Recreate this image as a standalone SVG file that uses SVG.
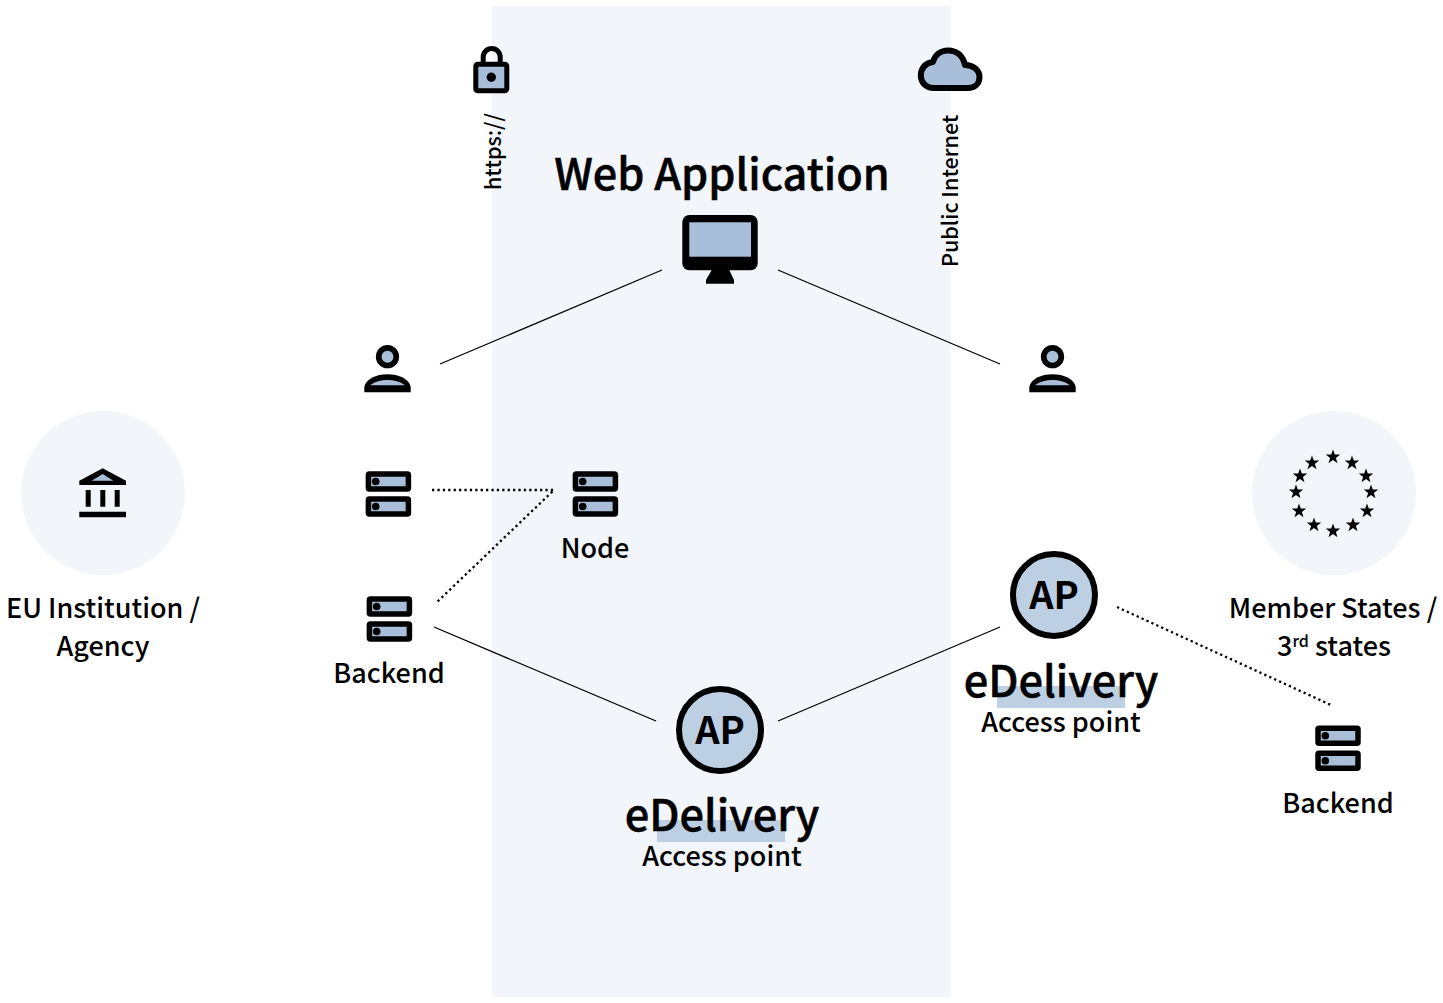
<svg xmlns="http://www.w3.org/2000/svg" width="1443" height="1003" viewBox="0 0 1443 1003">
<style>
text{font-family:"Noto Sans CJK SC","Noto Sans CJK JP","Noto Sans",sans-serif;font-weight:500;fill:#000;text-anchor:middle}
.l{font-size:27px}
.t{font-size:43.200px;stroke:#000;stroke-width:.5px}
.d{font-size:43.300px;stroke:#000;stroke-width:.5px}
.ap{font-size:38px;font-weight:700}
.v{font-size:21.500px;text-anchor:start}
.sup{font-size:16px}
.i{fill:#a9bfd9;stroke:#000;stroke-width:5.500;stroke-linejoin:round}
.c{fill:none;stroke:#000;stroke-width:1.300}
.o{fill:none;stroke:#000;stroke-width:2.300;stroke-dasharray:2.300 3.100}
</style>
<defs>
<g id="srv">
<rect class="i" x="2.700" y="2.700" width="40" height="15" rx="1"/>
<rect class="i" x="2.700" y="27.700" width="40" height="15" rx="1"/>
<circle cx="10" cy="10.200" r="3.800"/>
<circle cx="10" cy="35.200" r="3.800"/>
</g>
<g id="usr">
<circle cx="0" cy="-21.300" r="8.800" fill="#a9bfd9" stroke="#000" stroke-width="5.700"/>
<path d="M-23.200 14.300V9C-21.500 1 -11.500 -3.700 0 -3.700C11.500 -3.700 21.500 1 23.200 9V14.300Z"/>
<path d="M-17.500 7.300C-12.500 3.500 -6.500 2 0 2C6.500 2 12.500 3.500 17.500 7.300Z" fill="#a9bfd9"/>
</g>
<g id="apn">
<circle cx="0" cy="0" r="41" fill="#bccfe3" stroke="#000" stroke-width="6"/>
<text class="ap" x="0" y="14">AP</text>
</g>
<path id="st" d="M0 -7.500L1.800 -2.400H7.200L2.900 0.900L4.500 6.200L0 3L-4.500 6.200L-2.900 0.900L-7.200 -2.400H-1.800Z"/>
</defs>
<rect id="band" x="492" y="6" width="459" height="991" fill="#f2f5fa"/>
<g id="connectors">
<path class="c" d="M440 364L662 270M778 270L1000 364M434 627L656 721M778 721L1000 627"/>
<path class="o" d="M432 490H554L436 603M1117 607L1331 705"/>
</g>
<g id="eu-institution">
<circle cx="103" cy="493" r="82" fill="#f2f5fa"/>
<path d="M79.300 485V480.700L102.700 468.300L126 480.700V485Z"/>
<path d="M91.700 480.700L102.700 474L113.300 480.700Z" fill="#a9bfd9"/>
<path d="M85.700 490h5v16.700h-5zM100.300 490h5v16.700h-5zM114.700 490h5v16.700h-5zM79.300 511.700h46.700v5.600h-46.700z"/>
<text class="l" x="103" y="617.700">EU Institution /</text>
<text class="l" x="103" y="656">Agency</text>
</g>
<g id="member-states">
<circle cx="1334" cy="493" r="82" fill="#f2f5fa"/>
<use href="#st" x="1333" y="457"/><use href="#st" x="1352" y="463"/><use href="#st" x="1366" y="476"/>
<use href="#st" x="1371" y="492"/><use href="#st" x="1367" y="511"/><use href="#st" x="1353" y="525"/>
<use href="#st" x="1333" y="531"/><use href="#st" x="1314" y="525"/><use href="#st" x="1299" y="511"/>
<use href="#st" x="1296" y="492"/><use href="#st" x="1300" y="476"/><use href="#st" x="1312" y="463"/>
<text class="l" x="1333" y="617.700">Member States /</text>
<text class="l" x="1334" y="656">3<tspan class="sup" dy="-9">rd</tspan><tspan dy="9"> states</tspan></text>
</g>
<g id="lock">
<path d="M483.200 64V57A8.500 8.500 0 0 1 500.200 57V64" fill="none" stroke="#000" stroke-width="5"/>
<rect class="i" x="475.800" y="64.200" width="31" height="26.500" rx="2" style="stroke-width:5"/>
<circle cx="491.300" cy="77.300" r="4.700"/>
<text class="v" transform="translate(501,190) rotate(-90)">https://</text>
</g>
<g id="cloud">
<path class="i" d="M934 88C925 88 920.800 81.500 920.800 75.500C920.800 68 926 62.500 933 62C935 54.500 941 50.500 948 50.500C957 50.500 963 56 965 65C973 65 979.500 70 979.500 77C979.500 83.500 975 88 968 88Z" style="stroke-width:6"/>
<text class="v" transform="translate(958,267) rotate(-90)">Public Internet</text>
</g>
<g id="web-application">
<text class="t" x="722" y="189.500">Web Application</text>
<rect x="682.300" y="215" width="75.400" height="55.300" rx="7"/>
<rect x="689.300" y="222.300" width="61.700" height="34.400" fill="#a9bfd9"/>
<path d="M711.700 270H729.300L734 280V283.700H706V280Z"/>
</g>
<g id="user-left"><use href="#usr" x="387.500" y="378"/></g>
<g id="user-right"><use href="#usr" x="1052.500" y="378"/></g>
<g id="server-left"><use href="#srv" x="365.700" y="471.300"/></g>
<g id="node"><use href="#srv" x="572.700" y="471.300"/><text class="l" x="595" y="557.700">Node</text></g>
<g id="backend-left"><use href="#srv" x="366.700" y="596.300"/><text class="l" x="389" y="682.700">Backend</text></g>
<g id="backend-right"><use href="#srv" x="1315.300" y="725.500"/><text class="l" x="1338" y="813">Backend</text></g>
<g id="ap-center">
<rect x="657" y="820" width="128" height="22" fill="#bccfe3"/>
<use href="#apn" x="720" y="730"/>
<text class="d" x="722" y="831">eDelivery</text>
<text class="l" x="722" y="866">Access point</text>
</g>
<g id="ap-right">
<rect x="997" y="686" width="128" height="22" fill="#bccfe3"/>
<use href="#apn" x="1054" y="595"/>
<text class="d" x="1061" y="697">eDelivery</text>
<text class="l" x="1061" y="732">Access point</text>
</g>
</svg>
